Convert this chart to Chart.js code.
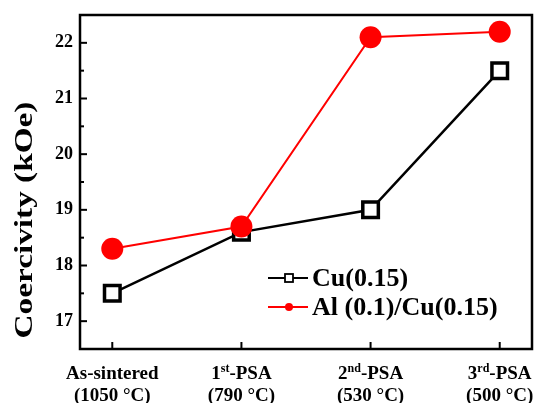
<!DOCTYPE html>
<html>
<head>
<meta charset="utf-8">
<script src="https://cdn.jsdelivr.net/npm/chart.js@4.4.0/dist/chart.umd.min.js"></script>
<style>
  html, body { margin: 0; padding: 0; background: #fff; overflow: hidden; }
  #wrap { width: 534px; height: 403px; }
</style>
</head>
<body>
<div id="wrap"><canvas id="coercivity"></canvas></div>
<script>
// stages along x
const stages = ["As-sintered", "1st-PSA", "2nd-PSA", "3rd-PSA"];
const stageNum = ["", "1", "2", "3"];
const stageSup = ["", "st", "nd", "rd"];
const stageTemp = ["(1050 °C)", "(790 °C)", "(530 °C)", "(500 °C)"];

// coercivity (kOe)
const cuValues = [17.5, 18.6, 19.0, 21.5];
const alCuValues = [18.3, 18.7, 22.1, 22.2];

const yTicks = [17, 18, 19, 20, 21, 22];

const FONT = "'Liberation Serif', 'Times New Roman', serif";

const toPoints = (vals) => vals.map((v, i) => ({ x: i, y: v }));

// axes frame, ticks, labels and legend drawn by hand
const decorations = {
    id: "decorations",
    afterDraw(chart) {
        const ctx = chart.ctx;
        const a = chart.chartArea;
        const xs = chart.scales.x;
        const ys = chart.scales.y;
        ctx.save();

        // frame
        ctx.strokeStyle = "#000";
        ctx.lineWidth = 2.5;
        ctx.strokeRect(a.left, a.top, a.right - a.left, a.bottom - a.top);

        // y ticks (inside)
        ctx.lineWidth = 2;
        for (let v = 16.5; v <= 22.5; v += 0.5) {
            const py = ys.getPixelForValue(v);
            const len = Number.isInteger(v) ? 7 : 4;
            ctx.beginPath();
            ctx.moveTo(a.left, py);
            ctx.lineTo(a.left + len, py);
            ctx.stroke();
        }
        // x ticks (inside)
        stages.forEach((s, i) => {
            const px = xs.getPixelForValue(i);
            ctx.beginPath();
            ctx.moveTo(px, a.bottom);
            ctx.lineTo(px, a.bottom - 7);
            ctx.stroke();
        });

        ctx.fillStyle = "#000";
        // y tick labels
        ctx.font = "bold 18px " + FONT;
        ctx.textAlign = "right";
        ctx.textBaseline = "middle";
        yTicks.forEach((v) => {
            ctx.fillText(String(v), 73, ys.getPixelForValue(v));
        });

        // y title
        ctx.save();
        ctx.translate(25, 220);
        ctx.rotate(-Math.PI / 2);
        ctx.scale(1.28, 1);
        ctx.textAlign = "center";
        ctx.textBaseline = "middle";
        ctx.font = "bold 26px " + FONT;
        ctx.fillText("Coercivity (kOe)", 0, 0);
        ctx.restore();

        // x labels
        ctx.textBaseline = "alphabetic";
        stages.forEach((s, i) => {
            const px = xs.getPixelForValue(i);
            const y1 = 379;
            if (i === 0) {
                ctx.font = "bold 19px " + FONT;
                ctx.textAlign = "center";
                ctx.fillText(s, px, y1);
            } else {
                ctx.font = "bold 19px " + FONT;
                const wNum = ctx.measureText(stageNum[i]).width;
                const wRest = ctx.measureText("-PSA").width;
                ctx.font = "bold 12px " + FONT;
                const wSup = ctx.measureText(stageSup[i]).width;
                let x0 = px - (wNum + wSup + wRest) / 2;
                ctx.textAlign = "left";
                ctx.font = "bold 19px " + FONT;
                ctx.fillText(stageNum[i], x0, y1);
                ctx.font = "bold 12px " + FONT;
                ctx.fillText(stageSup[i], x0 + wNum, y1 - 7);
                ctx.font = "bold 19px " + FONT;
                ctx.fillText("-PSA", x0 + wNum + wSup, y1);
            }
            ctx.font = "bold 19px " + FONT;
            ctx.textAlign = "center";
            ctx.fillText(stageTemp[i], px, 401);
        });

        // legend
        const rows = [
            { y: 278, color: "#000", label: "Cu(0.15)", shape: "square" },
            { y: 307, color: "#ff0000", label: "Al (0.1)/Cu(0.15)", shape: "dot" },
        ];
        ctx.font = "bold 26px " + FONT;
        ctx.textAlign = "left";
        ctx.textBaseline = "middle";
        rows.forEach((r) => {
            ctx.strokeStyle = r.color;
            ctx.lineWidth = 2;
            ctx.beginPath();
            ctx.moveTo(268, r.y);
            ctx.lineTo(308, r.y);
            ctx.stroke();
            if (r.shape === "square") {
                ctx.fillStyle = "#fff";
                ctx.fillRect(285, r.y - 4, 8, 8);
                ctx.lineWidth = 1.8;
                ctx.strokeRect(285, r.y - 4, 8, 8);
            } else {
                ctx.fillStyle = r.color;
                ctx.beginPath();
                ctx.arc(289, r.y, 4, 0, Math.PI * 2);
                ctx.fill();
            }
            ctx.fillStyle = "#000";
            ctx.fillText(r.label, 312, r.y + 1);
        });

        ctx.restore();
    },
};

new Chart(document.getElementById("coercivity"), {
    type: "line",
    data: {
        datasets: [
            {
                label: "Cu(0.15)",
                data: toPoints(cuValues),
                borderColor: "#000",
                borderWidth: 2.5,
                pointStyle: "rect",
                pointRadius: 11,
                pointBorderWidth: 3.5,
                pointBackgroundColor: "#fff",
                pointBorderColor: "#000",
                order: 1,
            },
            {
                label: "Al (0.1)/Cu(0.15)",
                data: toPoints(alCuValues),
                borderColor: "#ff0000",
                borderWidth: 2,
                pointStyle: "circle",
                pointRadius: 11,
                pointBorderWidth: 0,
                pointBackgroundColor: "#ff0000",
                order: 0,
            },
        ],
    },
    options: {
        responsive: true,
        maintainAspectRatio: false,
        animation: false,
        layout: { autoPadding: false, padding: { top: 15, right: 2, left: 0, bottom: 0 } },
        plugins: { legend: { display: false }, tooltip: { enabled: false } },
        scales: {
            x: {
                type: "linear",
                min: -0.25,
                max: 3.25,
                grid: { display: false },
                border: { display: false },
                ticks: { display: false },
                afterFit: (s) => { s.height = 54; },
            },
            y: {
                min: 16.5,
                max: 22.5,
                grid: { display: false },
                border: { display: false },
                ticks: { display: false },
                afterFit: (s) => { s.width = 80; },
            },
        },
    },
    plugins: [decorations],
});
</script>
</body>
</html>
